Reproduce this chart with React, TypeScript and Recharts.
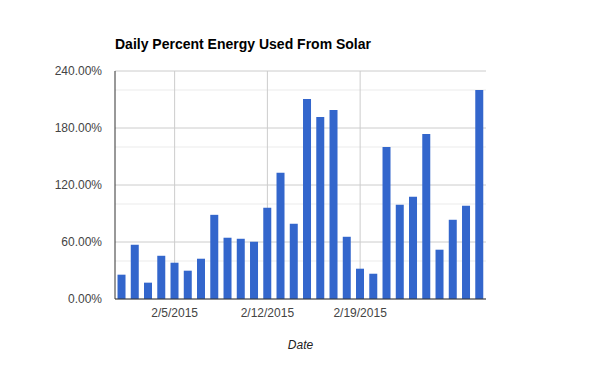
import React from "react";
import {
  BarChart, Bar, XAxis, YAxis, CartesianGrid, Label,
} from "recharts";

// February 2015, one value per day
const dates = Array.from({ length: 28 }, (_, i) => `2/${i + 1}/2015`);
const solarPercent = [
  25.6, 57.1, 17.2, 45.5, 38.2, 29.8, 42.4, 88.6, 64.5, 63.4, 60.3, 96.0, 132.8, 79.2,
  210.6, 191.7, 199.0, 65.5, 31.9, 26.6, 160.1, 99.2, 107.6, 173.8, 51.9, 83.4, 98.1, 220.0,
];
const xTicks = ["2/5/2015", "2/12/2015", "2/19/2015"];
const yTicks = [0, 60, 120, 180, 240];
const yMinorTicks = [20, 40, 80, 100, 140, 160, 200, 220];

const FONT = "Arial, 'Liberation Sans', sans-serif";

const data = dates.map((d, i) => ({ date: d, value: solarPercent[i] }));

export default function App() {
  return (
    <div style={{ position: "absolute", left: 0, top: 0, width: 600, height: 371, background: "#fff", fontFamily: FONT }}>
      <div
        style={{
          position: "absolute", left: 115, top: 36, fontSize: 14, fontWeight: "bold",
          color: "#000", fontFamily: FONT, whiteSpace: "nowrap",
        }}
      >
        Daily Percent Energy Used From Solar
      </div>
      <BarChart
        width={600}
        height={371}
        data={data}
        margin={{ top: 71, right: 114, left: 0, bottom: 0 }}
        barCategoryGap="19%"
      >
        {/* light minor lines every 20%, darker major lines every 60% */}
        <CartesianGrid stroke="#ebebeb" vertical={false} horizontalValues={yMinorTicks} />
        <CartesianGrid stroke="#cccccc" horizontalValues={yTicks} verticalValues={xTicks} />
        <XAxis
          dataKey="date"
          ticks={xTicks}
          interval={0}
          height={72}
          tickSize={0}
          tickMargin={9}
          axisLine={{ stroke: "#333333" }}
          tickLine={false}
          tick={{ fill: "#444444", fontSize: 12, fontFamily: FONT }}
        >
          <Label
            value="Date"
            position="insideBottom"
            offset={22}
            style={{ fill: "#222222", fontSize: 12, fontStyle: "italic", fontFamily: FONT }}
          />
        </XAxis>
        <YAxis
          domain={[0, 240]}
          ticks={yTicks}
          width={115}
          tickSize={0}
          tickMargin={13}
          axisLine={{ stroke: "#333333" }}
          tickLine={false}
          tickFormatter={(v: number) => `${v.toFixed(2)}%`}
          tick={{ fill: "#444444", fontSize: 12, fontFamily: FONT }}
        />
        <Bar dataKey="value" fill="#3366cc" isAnimationActive={false} />
      </BarChart>
    </div>
  );
}
